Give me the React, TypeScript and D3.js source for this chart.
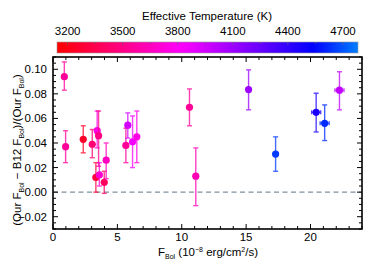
import React from "react";
import * as d3 from "d3";

// F_Bol (1e-8 erg/cm2/s), fractional difference, error limits, Teff
const fbol = [0.88, 0.98, 2.35, 3.05, 3.33, 3.43, 3.54, 3.6, 3.98, 4.13, 5.66, 5.81, 6.18, 6.51, 10.6, 11.09, 15.19, 17.29, 20.44, 21.1, 22.25];
const frac = [0.094, 0.037, 0.043, 0.039, 0.012, 0.05, 0.046, 0.014, 0.008, 0.026, 0.038, 0.0545, 0.041, 0.045, 0.069, 0.013, 0.0835, 0.031, 0.065, 0.056, 0.083];
const fracHi = [0.106, 0.05, 0.054, 0.051, 0.024, 0.066, 0.066, 0.024, 0.017, 0.04, 0.052, 0.0645, 0.062, 0.066, 0.084, 0.036, 0.0995, 0.045, 0.0805, 0.071, 0.098];
const fracLo = [0.083, 0.024, 0.032, 0.028, 0.0, 0.036, 0.021, 0.005, -0.001, 0.011, 0.024, 0.044, 0.02, 0.024, 0.054, -0.011, 0.067, 0.017, 0.049, 0.042, 0.067];
const fbolErr = [0, 0, 0, 0, 0, 0, 0, 0, 0, 0, 0, 0, 0, 0, 0, 0, 0.1, 0.1, 0.35, 0.35, 0.35];
const teff = [3550, 3550, 3250, 3450, 3300, 3750, 3500, 3700, 3400, 3650, 3550, 3950, 3850, 3750, 3550, 3620, 4100, 4650, 4460, 4620, 4000];

const xTicks = [0, 5, 10, 15, 20];
const yTicks = [-0.02, 0.0, 0.02, 0.04, 0.06, 0.08, 0.1];
const tempTicks = [3200, 3500, 3800, 4100, 4400, 4700];

const W = 374;
const H = 267;
const m = { left: 53, right: 12, top: 57, bottom: 38 };
const font = "Liberation Sans, Arial, sans-serif";

export default function App() {
  const x = d3.scaleLinear().domain([0, 24]).range([m.left, W - m.right]);
  const y = d3.scaleLinear().domain([-0.03, 0.11]).range([H - m.bottom, m.top]);
  const tx = d3.scaleLinear().domain([3142, 4782]).range([57, 358]);
  const color = d3
    .scaleLinear<string>()
    .domain([3142, 3820, 4540, 4782])
    .range(["#ff0000", "#ff00ff", "#0000ff", "#0080ff"])
    .interpolate(d3.interpolateRgb);

  const x0 = m.left, x1 = W - m.right, y0 = H - m.bottom, y1 = m.top;
  const xMinor = d3.range(0, 24.01, 1);
  const yMinor = d3.range(-0.03, 0.1101, 0.005);
  const tMinor = d3.range(3200, 4781, 150);
  const stops = d3.range(0, 1.0001, 0.05).map(t => {
    const v = 3142 + t * (4782 - 3142);
    return { off: t, c: color(v) };
  });

  return (
    <svg width={W} height={H} style={{ position: "absolute", left: 0, top: 0 }} fontFamily={font}>
      <defs>
        <linearGradient id="cb" x1="0" x2="1" y1="0" y2="0">
          {stops.map((s, i) => (
            <stop key={i} offset={s.off} stopColor={s.c} />
          ))}
        </linearGradient>
      </defs>

      {/* colorbar */}
      <text x={207} y={20} fontSize={11.5} textAnchor="middle">Effective Temperature (K)</text>
      {tempTicks.map(t => (
        <text key={t} x={tx(t)} y={35} fontSize={11.5} textAnchor="middle">{t}</text>
      ))}
      <rect x={57} y={42} width={301} height={11} fill="url(#cb)" stroke="#999" strokeWidth={0.6} />
      {tMinor.map(t => (
        <line key={t} x1={tx(t)} x2={tx(t)} y1={42} y2={tempTicks.includes(t) ? 45 : 44} stroke="#666" strokeWidth={0.6} />
      ))}

      {/* zero line */}
      <line x1={x0} x2={x1} y1={y(0)} y2={y(0)} stroke="#8090a0" strokeWidth={1.3} strokeDasharray="5,3.5" />

      {/* ticks */}
      {xMinor.map(v => {
        const major = v % 5 === 0;
        const l = major ? 5 : 3;
        return (
          <g key={"x" + v} stroke="#000" strokeWidth={1}>
            <line x1={x(v)} x2={x(v)} y1={y0} y2={y0 - l} />
            <line x1={x(v)} x2={x(v)} y1={y1} y2={y1 + l} />
          </g>
        );
      })}
      {yMinor.map((v, i) => {
        const major = Math.abs(Math.round(v * 50) - v * 50) < 1e-6;
        const l = major ? 5 : 3;
        return (
          <g key={"y" + i} stroke="#000" strokeWidth={1}>
            <line x1={x0} x2={x0 + l} y1={y(v)} y2={y(v)} />
            <line x1={x1} x2={x1 - l} y1={y(v)} y2={y(v)} />
          </g>
        );
      })}
      {xTicks.map(v => (
        <text key={v} x={x(v)} y={241} fontSize={11.5} textAnchor="middle">{v}</text>
      ))}
      {yTicks.map(v => (
        <text key={v} x={47} y={y(v) + 4} fontSize={11.5} textAnchor="end">
          {v < 0 ? "\u2212" + Math.abs(v).toFixed(2) : v.toFixed(2)}
        </text>
      ))}

      {/* points */}
      {fbol.map((f, i) => {
        const c = color(teff[i]);
        const cx = x(f), cy = y(frac[i]);
        return (
          <g key={i}>
            <g stroke={c} strokeWidth={1.4} opacity={0.75}>
              <line x1={cx} x2={cx} y1={y(fracHi[i])} y2={y(fracLo[i])} />
              <line x1={cx - 2.5} x2={cx + 2.5} y1={y(fracHi[i])} y2={y(fracHi[i])} />
              <line x1={cx - 2.5} x2={cx + 2.5} y1={y(fracLo[i])} y2={y(fracLo[i])} />
              {fbolErr[i] > 0 && (
                <>
                  <line x1={x(f - fbolErr[i])} x2={x(f + fbolErr[i])} y1={cy} y2={cy} />
                  <line x1={x(f - fbolErr[i])} x2={x(f - fbolErr[i])} y1={cy - 2} y2={cy + 2} />
                  <line x1={x(f + fbolErr[i])} x2={x(f + fbolErr[i])} y1={cy - 2} y2={cy + 2} />
                </>
              )}
            </g>
            <circle cx={cx} cy={cy} r={3.6} fill={c} />
          </g>
        );
      })}

      {/* frame */}
      <rect x={x0} y={y1} width={x1 - x0} height={y0 - y1} fill="none" stroke="#000" strokeWidth={1.6} />

      {/* axis labels */}
      <text x={208} y={256} fontSize={11.5} textAnchor="middle">
        F<tspan fontSize={7} dy={3}>Bol</tspan>
        <tspan dy={-3}> (10</tspan>
        <tspan fontSize={7} dy={-4}>−8</tspan>
        <tspan dy={4}> erg/cm</tspan>
        <tspan fontSize={7} dy={-4}>2</tspan>
        <tspan dy={4}>/s)</tspan>
      </text>
      <text transform={`translate(21,150) rotate(-90)`} fontSize={11.5} textAnchor="middle">
        (Our F<tspan fontSize={7} dy={3}>Bol</tspan>
        <tspan dy={-3}> − B12 F</tspan>
        <tspan fontSize={7} dy={3}>Bol</tspan>
        <tspan dy={-3}>)/(Our F</tspan>
        <tspan fontSize={7} dy={3}>Bol</tspan>
        <tspan dy={-3}>)</tspan>
      </text>
    </svg>
  );
}
